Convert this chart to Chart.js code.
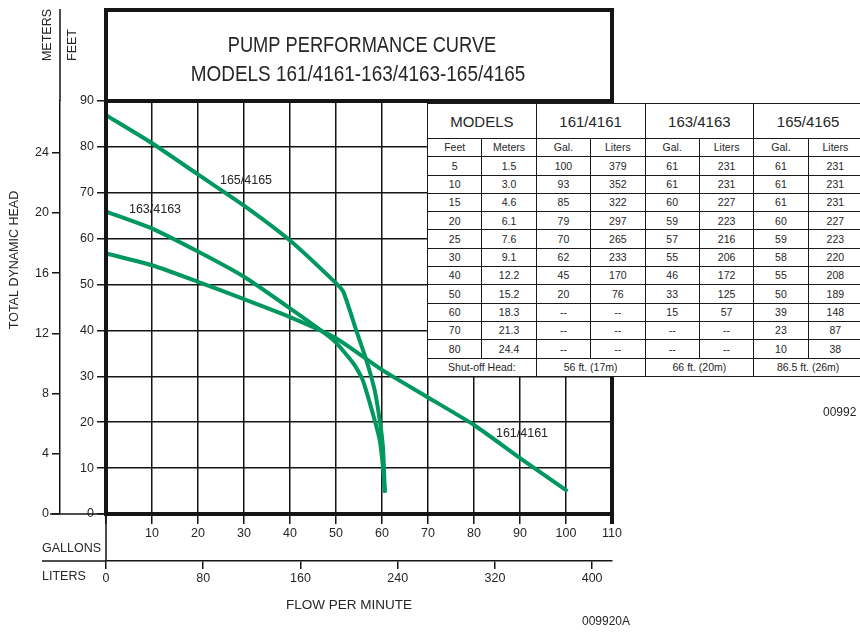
<!DOCTYPE html>
<html>
<head>
<meta charset="utf-8">
<script src="https://cdn.jsdelivr.net/npm/chart.js@4.4.1/dist/chart.umd.min.js"></script>
<style>
body { margin: 0; background: #fff; overflow: hidden; width: 860px; height: 632px; position: relative; font-family: "Liberation Sans", Arial, sans-serif; color: #222; }
#grafico { position: absolute; left: 0; top: 0; }
#tabela { position: absolute; left: 427px; top: 103px; border-collapse: collapse; table-layout: fixed; width: 436px; background: #fff; }
#tabela td { border: 1.5px solid #1a1a1a; text-align: center; padding: 0; font-size: 10.5px; line-height: 1; white-space: nowrap; overflow: hidden; color: #262626; }
#tabela tr { height: 18.3px; }
#tabela tr.cab { height: 35px; }
#tabela tr.cab td { font-size: 15px; }
</style>
</head>
<body>
<canvas id="grafico" width="860" height="632"></canvas>
<table id="tabela"></table>
<script>
// Curvas (galões por minuto x pés)
const curvaGal165 = [0, 10, 20, 30, 40, 50, 51.6, 54.4, 56.6, 58.4, 59.5, 60.2, 60.6];
const curvaPes165 = [86.9, 80.8, 74, 67.2, 59.6, 50.3, 48.4, 40, 33.5, 27, 20.5, 14.7, 5];
const curvaGal163 = [0, 10, 20, 30, 40, 49.4, 53.8, 55.8, 58, 59.5, 60.2, 60.6];
const curvaPes163 = [65.9, 62.2, 57.2, 51.7, 44.8, 37.9, 32.8, 29.2, 21.9, 16.1, 10.3, 5];
const curvaGal161 = [0, 10, 20, 30, 40, 50, 60, 70, 80, 90, 100];
const curvaPes161 = [56.8, 54.2, 50.6, 46.8, 42.9, 38.3, 31.4, 25.4, 19.4, 12.2, 5.2];

// Eixos
const ticksPes = [0, 10, 20, 30, 40, 50, 60, 70, 80, 90];
const ticksMetros = [0, 4, 8, 12, 16, 20, 24];
const ticksGaloes = [0, 10, 20, 30, 40, 50, 60, 70, 80, 90, 100, 110];
const ticksLitros = [0, 80, 160, 240, 320, 400];

// Tabela
const modelos = ["161/4161", "163/4163", "165/4165"];
const tabPes = [5, 10, 15, 20, 25, 30, 40, 50, 60, 70, 80];
const tabMetros = ["1.5", "3.0", "4.6", "6.1", "7.6", "9.1", "12.2", "15.2", "18.3", "21.3", "24.4"];
const tabGal161 = [100, 93, 85, 79, 70, 62, 45, 20, "--", "--", "--"];
const tabLit161 = [379, 352, 322, 297, 265, 233, 170, 76, "--", "--", "--"];
const tabGal163 = [61, 61, 60, 59, 57, 55, 46, 33, 15, "--", "--"];
const tabLit163 = [231, 231, 227, 223, 216, 206, 172, 125, 57, "--", "--"];
const tabGal165 = [61, 61, 61, 60, 59, 58, 55, 50, 39, 23, 10];
const tabLit165 = [231, 231, 231, 227, 223, 220, 208, 189, 148, 87, 38];
const shutoff = ["56 ft. (17m)", "66 ft. (20m)", "86.5 ft. (26m)"];

const verde = "#00985e";
const preto = "#151515";
const texto = "#262626";

// Monta a tabela
let html = '<tr class="cab"><td colspan="2">MODELS</td>';
modelos.forEach(m => { html += '<td colspan="2">' + m + '</td>'; });
html += '</tr><tr><td>Feet</td><td>Meters</td>';
modelos.forEach(() => { html += '<td>Gal.</td><td>Liters</td>'; });
html += '</tr>';
tabPes.forEach((p, i) => {
    html += '<tr><td>' + p + '</td><td>' + tabMetros[i] + '</td>' +
        '<td>' + tabGal161[i] + '</td><td>' + tabLit161[i] + '</td>' +
        '<td>' + tabGal163[i] + '</td><td>' + tabLit163[i] + '</td>' +
        '<td>' + tabGal165[i] + '</td><td>' + tabLit165[i] + '</td></tr>';
});
html += '<tr><td colspan="2">Shut-off Head:</td>';
shutoff.forEach(s => { html += '<td colspan="2">' + s + '</td>'; });
html += '</tr>';
document.getElementById("tabela").innerHTML = html;

function pontos(gal, pes) {
    return gal.map((g, i) => ({ x: g, y: pes[i] }));
}

function textoRotacionado(ctx, t, x, y) {
    ctx.save();
    ctx.translate(x, y);
    ctx.rotate(-Math.PI / 2);
    ctx.fillText(t, 0, 0);
    ctx.restore();
}

function textoEstreito(ctx, t, x, y, sx) {
    ctx.save();
    ctx.translate(x, y);
    ctx.scale(sx, 1);
    ctx.fillText(t, 0, 0);
    ctx.restore();
}

// Molduras, títulos e rótulos
const decoracao = {
    id: "decoracao",
    afterDraw(chart) {
        const ctx = chart.ctx;
        const a = chart.chartArea;
        const y2 = chart.scales.y2;
        const x2 = chart.scales.x2;
        ctx.save();
        ctx.strokeStyle = preto;

        // linhas finas
        ctx.lineWidth = 1.5;
        ctx.beginPath();
        ctx.moveTo(y2.right, 9); ctx.lineTo(y2.right, a.top);
        ctx.moveTo(50, a.bottom); ctx.lineTo(a.left, a.bottom);
        ctx.moveTo(a.left, a.bottom); ctx.lineTo(a.left, x2.top);
        ctx.moveTo(42, x2.top); ctx.lineTo(a.left, x2.top);
        ctx.stroke();

        // moldura grossa
        ctx.lineWidth = 4;
        ctx.strokeRect(a.left, 10, a.right - a.left, a.top - 10);
        ctx.beginPath();
        ctx.moveTo(a.right, a.top); ctx.lineTo(a.right, a.bottom + 10);
        ctx.moveTo(a.left, a.top); ctx.lineTo(a.left, a.bottom);
        ctx.stroke();

        ctx.fillStyle = texto;
        ctx.textAlign = "center";
        ctx.textBaseline = "middle";
        ctx.font = '22px "Liberation Sans", Arial, sans-serif';
        textoEstreito(ctx, "PUMP PERFORMANCE CURVE", 362, 46, 0.83);
        textoEstreito(ctx, "MODELS 161/4161-163/4163-165/4165", 358, 75, 0.86);

        ctx.font = '12.5px "Liberation Sans", Arial, sans-serif';
        textoRotacionado(ctx, "METERS", 48, 35);
        textoRotacionado(ctx, "FEET", 73, 45);
        textoRotacionado(ctx, "TOTAL DYNAMIC HEAD", 15, 260);

        ctx.fillText("165/4165", 246, 181);
        ctx.fillText("163/4163", 155, 210);
        ctx.fillText("161/4161", 522, 434);

        ctx.font = '13.5px "Liberation Sans", Arial, sans-serif';
        ctx.fillText("FLOW PER MINUTE", 349, 605);

        ctx.font = '12px "Liberation Sans", Arial, sans-serif';
        ctx.fillText("009920A", 606, 622);
        ctx.textAlign = "left";
        ctx.fillText("00992", 823, 413);

        ctx.font = '12.5px "Liberation Sans", Arial, sans-serif';
        ctx.fillText("GALLONS", 42, 549);
        ctx.fillText("LITERS", 42, 577);
        ctx.restore();
    }
};

const fonteTick = { family: '"Liberation Sans", Arial, sans-serif', size: 12.5 };

function serie(rotulo, gal, pes) {
    return {
        label: rotulo,
        data: pontos(gal, pes),
        showLine: true,
        borderColor: verde,
        borderWidth: 4,
        pointRadius: 0,
        tension: 0.2,
        borderCapStyle: "round",
        borderJoinStyle: "round"
    };
}

let ctx = document.getElementById("grafico").getContext("2d");
window.myChart = new Chart(ctx, {
    type: "scatter",
    data: {
        datasets: [
            serie("165/4165", curvaGal165, curvaPes165),
            serie("163/4163", curvaGal163, curvaPes163),
            serie("161/4161", curvaGal161, curvaPes161)
        ]
    },
    options: {
        responsive: false,
        animation: false,
        devicePixelRatio: 1,
        layout: { padding: { left: 10, top: 101, right: 248, bottom: 41 } },
        plugins: { legend: { display: false }, tooltip: { enabled: false } },
        scales: {
            x: {
                type: "linear", position: "bottom", min: 0, max: 110,
                afterBuildTicks: s => { s.ticks = ticksGaloes.map(v => ({ value: v })); },
                ticks: { color: texto, font: fonteTick, padding: 2, maxRotation: 0, autoSkip: false,
                    callback: v => (v === 0 ? "" : v) },
                grid: { color: preto, lineWidth: 1.5, tickLength: 10 },
                border: { color: preto, width: 4 },
                afterFit: s => { s.height = 47; }
            },
            x2: {
                type: "linear", position: "bottom", min: 0, max: 110 * 3.785,
                afterBuildTicks: s => { s.ticks = ticksLitros.map(v => ({ value: v })); },
                ticks: { color: texto, font: fonteTick, padding: 2, maxRotation: 0, autoSkip: false },
                grid: { drawOnChartArea: false, color: preto, lineWidth: 1.5, tickLength: 8 },
                border: { color: preto, width: 1.5 },
                afterFit: s => { s.height = 30; }
            },
            y: {
                type: "linear", position: "left", min: 0, max: 90,
                afterBuildTicks: s => { s.ticks = ticksPes.map(v => ({ value: v })); },
                ticks: { color: texto, font: fonteTick, padding: 3, autoSkip: false },
                grid: { color: preto, lineWidth: 1.5, tickLength: 9 },
                border: { color: preto, width: 4 },
                afterFit: s => { s.width = 46; }
            },
            y2: {
                type: "linear", position: "left", min: 0, max: 90 / 3.2808,
                afterBuildTicks: s => { s.ticks = ticksMetros.map(v => ({ value: v })); },
                ticks: { color: texto, font: fonteTick, padding: 3, autoSkip: false },
                grid: { drawOnChartArea: false, color: preto, lineWidth: 1.5, tickLength: 8 },
                border: { color: preto, width: 1.5 },
                afterFit: s => { s.width = 50; }
            }
        }
    },
    plugins: [decoracao]
});
</script>
</body>
</html>
